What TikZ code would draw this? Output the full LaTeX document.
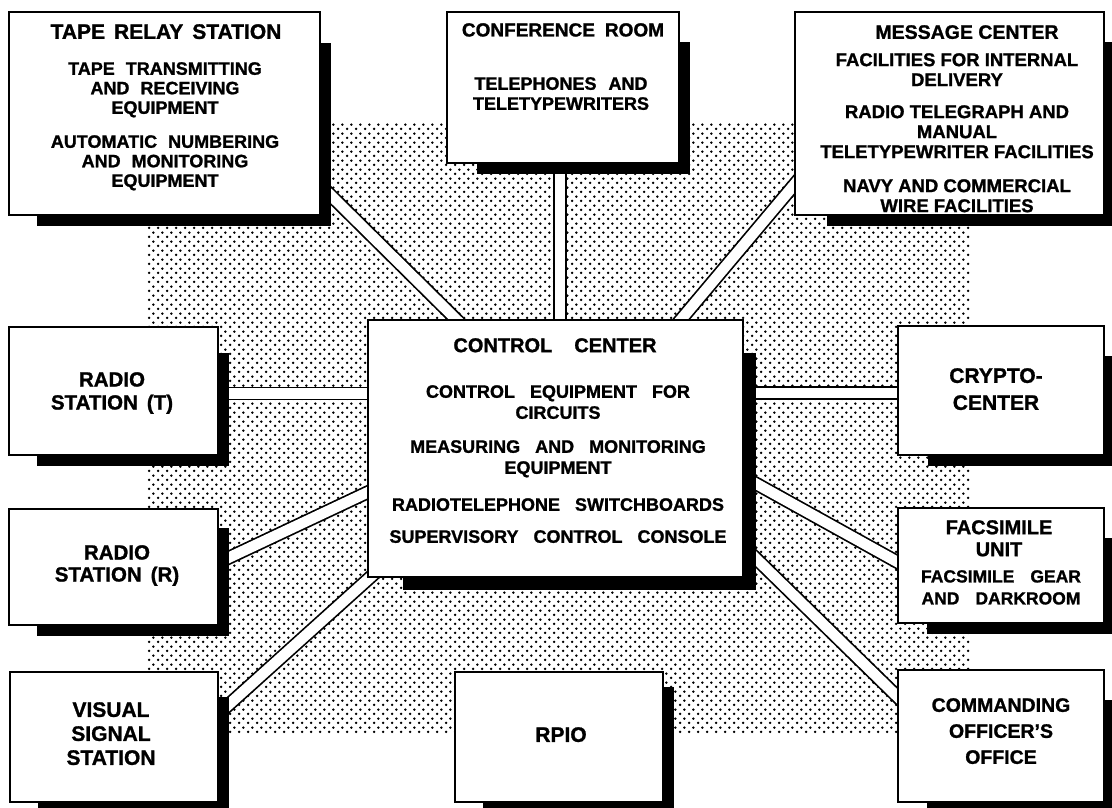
\documentclass[tikz,border=0pt]{standalone}
\usepackage{fontspec}
\setmainfont{Liberation Sans}[BoldFeatures={FakeBold=1.2}]
\usetikzlibrary{calc,patterns.meta}
\pgfdeclarepattern{name=halftone, type=uncolored,
  bottom left={\pgfpoint{0pt}{0pt}}, top right={\pgfpoint{9.2pt}{9.2pt}},
  tile size={\pgfpoint{9.2pt}{9.2pt}},
  code={\pgfpathcircle{\pgfpoint{2.3pt}{2.3pt}}{1.45pt}
        \pgfpathcircle{\pgfpoint{6.9pt}{6.9pt}}{1.45pt}\pgfusepath{fill}}}
\newcommand\fnt[3]{\bfseries\fontsize{#1}{#2}\selectfont\spaceskip=#3pt\relax}
\begin{document}
\begin{tikzpicture}[x=1pt,y=-1pt,
  box/.style={draw,line width=2pt,fill=white,inner sep=0pt,outer sep=0pt},
  ttl/.style={font=\fnt{21}{23}{9},align=center,inner sep=0pt,anchor=north},
  bdy/.style={font=\fnt{18}{20}{11},align=center,inner sep=0pt,anchor=north},
  band/.style={draw=black,double=white,double distance=10.5pt,line width=1.7pt}]
\useasboundingbox (0,0) rectangle (1112,807);
\fill[white] (0,0) rectangle (1112,807);
% stippled background
\fill[pattern=halftone,pattern color=black] (146,123) rectangle (970,733);
% connector end points
\coordinate (c1s) at (300,165);   \coordinate (c1e) at (472,335);
\coordinate (c2s) at (560,150);   \coordinate (c2e) at (560,335);
\coordinate (c3s) at (810,166);   \coordinate (c3e) at (668,335);
\coordinate (c4s) at (210,393.5); \coordinate (c4e) at (380,393.5);
\coordinate (c5s) at (210,566.5); \coordinate (c5e) at (380,486.5);
\coordinate (c6s) at (215,717);   \coordinate (c6e) at (385,564);
\coordinate (c7s) at (905,393);   \coordinate (c7e) at (735,393);
\coordinate (c8s) at (910,569);   \coordinate (c8e) at (735,472);
\coordinate (c9s) at (910,709);   \coordinate (c9e) at (735,538);
\foreach \i in {1,...,9} {\draw[band] (c\i s) -- (c\i e);}
% boxes
\node[box,minimum width=311pt,minimum height=203pt] (tape) at (164.5,113.5) {};
\node[box,minimum width=232pt,minimum height=151pt] (conf) at (563,87.5) {};
\node[box,minimum width=309pt,minimum height=203pt] (msg) at (949.5,113.5) {};
\node[box,minimum width=209pt,minimum height=128pt] (rt) at (113.5,391) {};
\node[box,minimum width=209pt,minimum height=116pt] (rr) at (113.5,567) {};
\node[box,minimum width=208pt,minimum height=130pt] (vs) at (114,737) {};
\node[box,minimum width=208pt,minimum height=130pt] (rpio) at (559,737) {};
\node[box,minimum width=375pt,minimum height=257pt] (cc) at (555.5,448.5) {};
\node[box,minimum width=206pt,minimum height=129pt] (crypto) at (1001,390.5) {};
\node[box,minimum width=206pt,minimum height=115pt] (fax) at (1001,565.5) {};
\node[box,minimum width=206pt,minimum height=132pt] (co) at (1001,736) {};
% shadows
\foreach \n/\a/\b/\t in {tape/28/31/11,conf/30/30/11,msg/32/30/11,rt/28/26/11,rr/28/19/11,vs/28/25/11,rpio/28/15/11,cc/35/33/13,crypto/30/30/11,fax/29/30/11,co/29/30/11} {
  \fill ($(\n.south west)+(\a pt,0)$) rectangle ($(\n.south east)+(\t pt,-\t pt)$);
  \fill ($(\n.north east)+(0,-\b pt)$) rectangle ($(\n.south east)+(\t pt,0)$);
}
% texts
\node[ttl] (tapeT) at (166,24) {TAPE RELAY STATION};
\node[bdy,font=\fnt{18}{19.5}{11}] (tapeB) at (165,62) {TAPE TRANSMITTING\\AND RECEIVING\\EQUIPMENT\\[14.5pt]AUTOMATIC NUMBERING\\AND MONITORING\\EQUIPMENT};
\node[ttl,font=\fnt{19}{22}{10}] (confT) at (563,23) {CONFERENCE ROOM};
\node[bdy,font=\fnt{18}{20}{12}] (confB) at (561,77) {TELEPHONES AND\\TELETYPEWRITERS};
\node[ttl,font=\fnt{19.5}{22}{0}] (msgT) at (967,25) {MESSAGE CENTER};
\node[bdy,font=\fnt{18.5}{20}{0}] (msgB) at (957,53) {FACILITIES FOR INTERNAL\\DELIVERY\\[12pt]RADIO TELEGRAPH AND\\MANUAL\\TELETYPEWRITER FACILITIES\\[14pt]NAVY AND COMMERCIAL\\WIRE FACILITIES};
\node[ttl,font=\fnt{20.5}{23}{9}] (rtT) at (112,372) {RADIO\\STATION (T)};
\node[ttl,font=\fnt{20.5}{22}{9}] (rrT) at (117,545) {RADIO\\STATION (R)};
\node[ttl,font=\fnt{21}{24}{9}] (vsT) at (111,702) {VISUAL\\SIGNAL\\STATION};
\node[ttl] (rpioT) at (561,727) {RPIO};
\node[ttl,font=\fnt{20}{23}{22}] (ccT) at (555,338) {CONTROL CENTER};
\node[bdy,font=\fnt{18}{21}{15}] (ccB) at (558,385) {CONTROL EQUIPMENT FOR\\CIRCUITS\\[13pt]MEASURING AND MONITORING\\EQUIPMENT\\[16pt]RADIOTELEPHONE SWITCHBOARDS\\[11pt]SUPERVISORY CONTROL CONSOLE};
\node[ttl,font=\fnt{21}{27}{9}] (cryptoT) at (996,368) {CRYPTO-\\CENTER};
\node[ttl,font=\fnt{20}{22}{9}] (faxT) at (999,520) {FACSIMILE\\UNIT};
\node[bdy,font=\fnt{17.5}{22}{16}] (faxB) at (1001,570) {FACSIMILE GEAR\\AND DARKROOM};
\node[ttl,font=\fnt{19.5}{26}{9}] (coT) at (1001,698) {COMMANDING\\OFFICER’S\\OFFICE};
\end{tikzpicture}
\end{document}
